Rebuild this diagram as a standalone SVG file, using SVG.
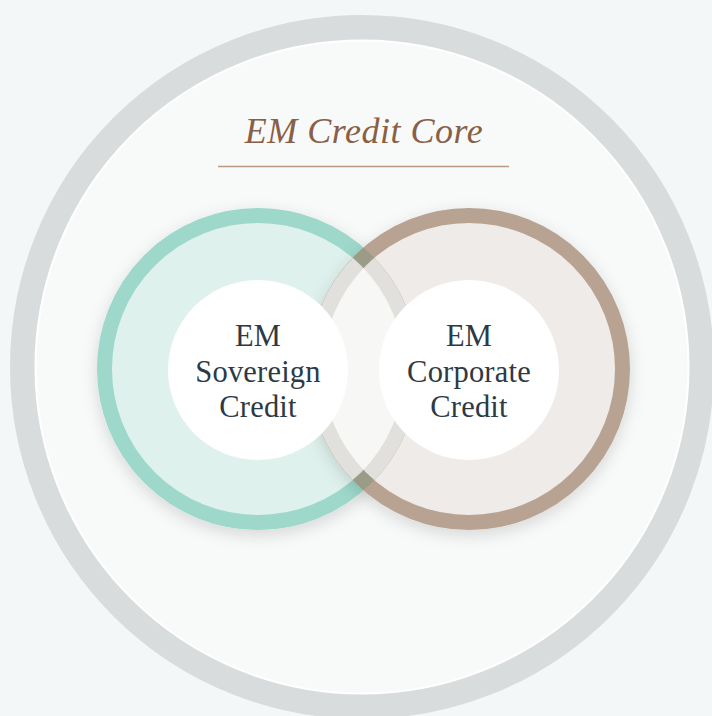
<svg xmlns="http://www.w3.org/2000/svg" width="712" height="716" viewBox="0 0 712 716">
  <defs>
    <style>
      .label { font-family: "Liberation Serif", "Times New Roman", serif; font-size: 30.5px; fill: #2c3a45; text-anchor: middle; letter-spacing: 0.2px; }
      .title { font-family: "Liberation Serif", "Times New Roman", serif; font-style: italic; font-size: 36px; fill: #8a5f47; text-anchor: middle; letter-spacing: 0.5px; }
    </style>
    <filter id="soft" x="-30%" y="-30%" width="160%" height="160%">
      <feDropShadow dx="0" dy="5" stdDeviation="8" flood-color="#000" flood-opacity="0.14"/>
    </filter>
    <clipPath id="outerA"><circle cx="258" cy="369" r="161"/></clipPath>
    <clipPath id="outerB"><circle cx="469" cy="369" r="161"/></clipPath>
    <clipPath id="innerA"><circle cx="258" cy="369" r="146"/></clipPath>
  </defs>

  <!-- page -->
  <rect width="712" height="716" fill="#f4f7f8"/>

  <!-- outer frame ring -->
  <g id="frame">
    <circle cx="362" cy="367" r="339.5" fill="none" stroke="#d9dcdd" stroke-width="25"/>
    <circle cx="362" cy="367" r="326.5" fill="#f8faf9" stroke="#ffffff" stroke-width="2"/>
  </g>

  <!-- heading -->
  <g id="title">
    <text class="title" x="364" y="143">EM Credit Core</text>
    <line x1="218" y1="166.5" x2="509" y2="166.5" stroke="#b89a86" stroke-width="1.5"/>
  </g>

  <!-- left set -->
  <g id="sovereign">
    <circle cx="258" cy="369" r="153.5" fill="#dff1ed" stroke="#9dd8cb" stroke-width="15" filter="url(#soft)"/>
  </g>

  <!-- right set -->
  <g id="corporate">
    <circle cx="469" cy="369" r="153.5" fill="#efebe8" stroke="#b8a393" stroke-width="15" filter="url(#soft)"/>
  </g>

  <!-- overlap of the two sets -->
  <g id="overlap">
    <g clip-path="url(#outerA)">
      <circle cx="469" cy="369" r="161" fill="#9a9c88"/>
      <g clip-path="url(#outerB)">
        <circle cx="258" cy="369" r="146" fill="#e2e0dc"/>
        <circle cx="469" cy="369" r="146" fill="#e2e0dc"/>
      </g>
    </g>
    <g clip-path="url(#innerA)">
      <circle cx="469" cy="369" r="146" fill="#f7f7f5"/>
    </g>
  </g>

  <!-- centre labels -->
  <g id="sovereign-label">
    <circle cx="258" cy="370" r="90" fill="#ffffff"/>
    <text class="label" x="258" y="346">EM</text>
    <text class="label" x="258" y="382">Sovereign</text>
    <text class="label" x="258" y="417">Credit</text>
  </g>
  <g id="corporate-label">
    <circle cx="469" cy="370" r="90" fill="#ffffff"/>
    <text class="label" x="469" y="346">EM</text>
    <text class="label" x="469" y="382">Corporate</text>
    <text class="label" x="469" y="417">Credit</text>
  </g>
</svg>
